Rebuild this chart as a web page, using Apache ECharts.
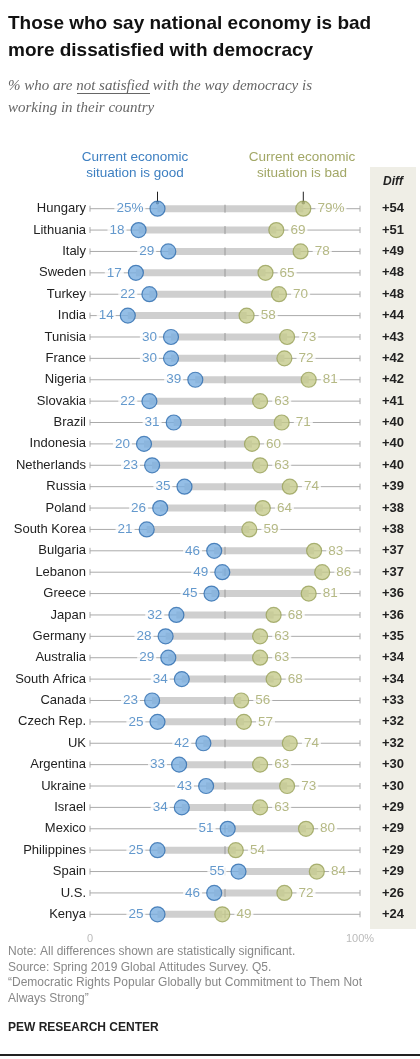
<!DOCTYPE html>
<html><head><meta charset="utf-8">
<script src="https://cdn.jsdelivr.net/npm/echarts@6/dist/echarts.min.js"></script>
<style>body{margin:0;background:#fff}#c{width:420px;height:1059px}</style>
</head><body><div id="c"></div>
<script>
const countries=["Hungary","Lithuania","Italy","Sweden","Turkey","India","Tunisia","France","Nigeria","Slovakia","Brazil","Indonesia","Netherlands","Russia","Poland","South Korea","Bulgaria","Lebanon","Greece","Japan","Germany","Australia","South Africa","Canada","Czech Rep.","UK","Argentina","Ukraine","Israel","Mexico","Philippines","Spain","U.S.","Kenya"];
const good=[25,18,29,17,22,14,30,30,39,22,31,20,23,35,26,21,46,49,45,32,28,29,34,23,25,42,33,43,34,51,25,55,46,25];
const bad=[79,69,78,65,70,58,73,72,81,63,71,60,63,74,64,59,83,86,81,68,63,63,68,56,57,74,63,73,63,80,54,84,72,49];
const F='"Liberation Sans", Arial, sans-serif';
const BLUE='#3d7fc1', GREEN='#a2a766';
const chart=echarts.init(document.getElementById('c'));
const rows=countries.map((c,i)=>[good[i],bad[i],c,i]);
chart.setOption({
animation:false,
grid:{left:90,right:60,top:198,bottom:134},
xAxis:{type:'value',min:0,max:100,interval:100,axisLine:{show:false},axisTick:{show:false},splitLine:{show:false},
 axisLabel:{color:'#bbb',fontFamily:F,fontSize:11,margin:8,formatter:v=>v===100?'100%':'0'}},
yAxis:{type:'category',data:countries,inverse:true,axisLine:{show:false},axisTick:{show:false},
 axisLabel:{color:'#222',fontFamily:F,fontSize:13,margin:4}},
graphic:[
 {type:'text',left:8,top:10,style:{text:'Those who say national economy is bad\nmore dissatisfied with democracy',font:'bold 19px '+F,fill:'#111',lineHeight:27}},
 {type:'text',left:8,top:75,style:{text:'% who are not satisfied with the way democracy is\nworking in their country',font:'italic 15px "Liberation Serif", Georgia, serif',fill:'#666',lineHeight:22}},
 {type:'rect',shape:{x:77,y:93,width:73,height:1},style:{fill:'#666'}},
 {type:'text',x:135,y:149,style:{text:'Current economic\nsituation is good',font:'13.5px '+F,fill:BLUE,align:'center',lineHeight:16}},
 {type:'text',x:302,y:149,style:{text:'Current economic\nsituation is bad',font:'13.5px '+F,fill:GREEN,align:'center',lineHeight:16}},
 {type:'rect',shape:{x:370,y:167,width:46,height:762},style:{fill:'#efeee6'},z:-1},
 {type:'text',x:393,y:176,style:{text:'Diff',font:'italic bold 12px '+F,fill:'#222',align:'center'}},
 {type:'text',left:8,top:944,style:{text:'Note: All differences shown are statistically significant.\nSource: Spring 2019 Global Attitudes Survey. Q5.\n\u201cDemocratic Rights Popular Globally but Commitment to Them Not\nAlways Strong\u201d',font:'12px '+F,fill:'#888',lineHeight:15.5}},
 {type:'text',left:8,top:1022,style:{text:'PEW RESEARCH CENTER',font:'bold 12px '+F,fill:'#222'}},
 {type:'rect',shape:{x:0,y:1054,width:420,height:2},style:{fill:'#222'}}
],
series:[
 {type:'custom',data:rows,renderItem:(p,api)=>{
   const g=api.value(0),b=api.value(1),i=api.value(3);
   const y=api.coord([0,i])[1];
   const x0=api.coord([0,i])[0],x100=api.coord([100,i])[0],x50=api.coord([50,i])[0];
   const xg=api.coord([g,i])[0],xb=api.coord([b,i])[0];
   const ch=[
    {type:'line',shape:{x1:x0,y1:y,x2:x100,y2:y},style:{stroke:'#aaa',lineWidth:1}},
    {type:'line',shape:{x1:x0,y1:y-3,x2:x0,y2:y+3},style:{stroke:'#aaa',lineWidth:1}},
    {type:'line',shape:{x1:x100,y1:y-3,x2:x100,y2:y+3},style:{stroke:'#aaa',lineWidth:1}},
    {type:'rect',shape:{x:xg,y:y-3.5,width:xb-xg,height:7},style:{fill:'#cfcfcf'}},
    {type:'line',shape:{x1:x50,y1:y-4,x2:x50,y2:y+4},style:{stroke:'#999',lineWidth:1}},
    {type:'text',x:393,y:y,style:{text:'+'+(b-g),font:'bold 13px '+F,fill:'#222',align:'center',verticalAlign:'middle'}}
   ];
   if(i===0){
    ch.push({type:'line',shape:{x1:xg,y1:y-17,x2:xg,y2:y-6},style:{stroke:'#222',lineWidth:1}});
    ch.push({type:'circle',shape:{cx:xg,cy:y-6,r:1.8},style:{fill:'#222'}});
    ch.push({type:'line',shape:{x1:xb,y1:y-17,x2:xb,y2:y-6},style:{stroke:'#222',lineWidth:1}});
    ch.push({type:'circle',shape:{cx:xb,cy:y-6,r:1.8},style:{fill:'#222'}});
   }
   return {type:'group',children:ch};
 }},
 {type:'scatter',data:good.map((v,i)=>[v,i]),symbolSize:15,itemStyle:{color:'#79aee0',borderColor:'#2d6cae',borderWidth:1.2},
  label:{show:true,position:'left',distance:4,color:BLUE,fontFamily:F,fontSize:13.5,backgroundColor:'#fff',padding:[0,2],formatter:p=>p.dataIndex===0?p.value[0]+'%':p.value[0]},z:3},
 {type:'scatter',data:bad.map((v,i)=>[v,i]),symbolSize:15,itemStyle:{color:'#c6cb8c',borderColor:'#98a15a',borderWidth:1.2},
  label:{show:true,position:'right',distance:4,color:GREEN,fontFamily:F,fontSize:13.5,backgroundColor:'#fff',padding:[0,2],formatter:p=>p.dataIndex===0?p.value[0]+'%':p.value[0]},z:3}
]});
</script></body></html>
